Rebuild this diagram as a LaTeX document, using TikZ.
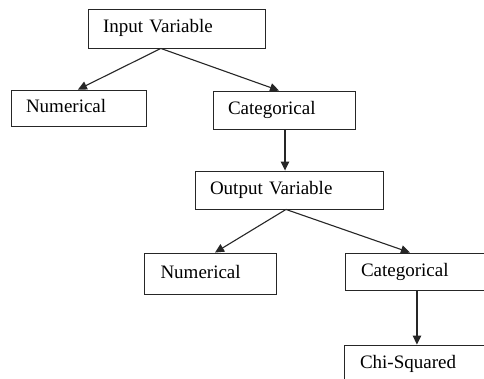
\documentclass[tikz,border=0pt]{standalone}
\usepackage{fontspec}
\setmainfont{Liberation Serif}
\usetikzlibrary{arrows.meta,calc}
\tikzset{
  box/.style={draw=black!85, line width=0.9pt, rectangle, inner xsep=15pt, inner ysep=0pt,
    align=left, font=\fontsize{19}{22}\selectfont, text height=13pt, text depth=4pt},
  arr/.style={draw=black!85, line width=1.1pt, -{Triangle[length=9pt,width=8.5pt]}}
}
\begin{document}
\begin{tikzpicture}[x=1pt,y=-1pt]
\useasboundingbox (0,0) rectangle (484,379);
\clip (0,0) rectangle (484,379);
\fill[white] (0,0) rectangle (484,379);
\node[box, minimum width=177pt, minimum height=39pt, text width=147pt] (in) at (176.5,28.5) {Input Variable};
\node[box, minimum width=135pt, minimum height=36pt, text width=105pt] (num1) at (78.5,108) {Numerical};
\node[box, minimum width=142pt, minimum height=38pt, text width=112pt] (cat1) at (284,110) {Categorical};
\node[box, minimum width=188pt, minimum height=38pt, text width=158pt] (out) at (289,190) {Output Variable};
\node[box, minimum width=131pt, minimum height=41pt, text width=100pt, inner xsep=16pt] (num2) at (210.5,273.5) {Numerical};
\node[box, minimum width=160pt, minimum height=37pt, text width=128pt, inner xsep=16pt] (cat2) at (425,271.5) {Categorical};
\node[box, minimum width=156pt, minimum height=37pt, text width=124pt, inner xsep=16pt] (chi) at (422,363.5) {Chi-Squared};

\draw[arr] ($(in.south west)!0.412!(in.south east)$) -- ($(num1.north west)!0.496!(num1.north east)$);
\draw[arr] ($(in.south west)!0.412!(in.south east)$) -- ($(cat1.north west)!0.465!(cat1.north east)$);
\draw[arr] ($(cat1.south west)!0.507!(cat1.south east)$) coordinate (c1) -- (c1 |- out.north);
\draw[arr] ($(out.south west)!0.484!(out.south east)$) -- ($(num2.north west)!0.534!(num2.north east)$);
\draw[arr] ($(out.south west)!0.484!(out.south east)$) -- ($(cat2.north west)!0.406!(cat2.north east)$);
\draw[arr] ($(cat2.south west)!0.45!(cat2.south east)$) coordinate (c2) -- (c2 |- chi.north);
\end{tikzpicture}
\end{document}
